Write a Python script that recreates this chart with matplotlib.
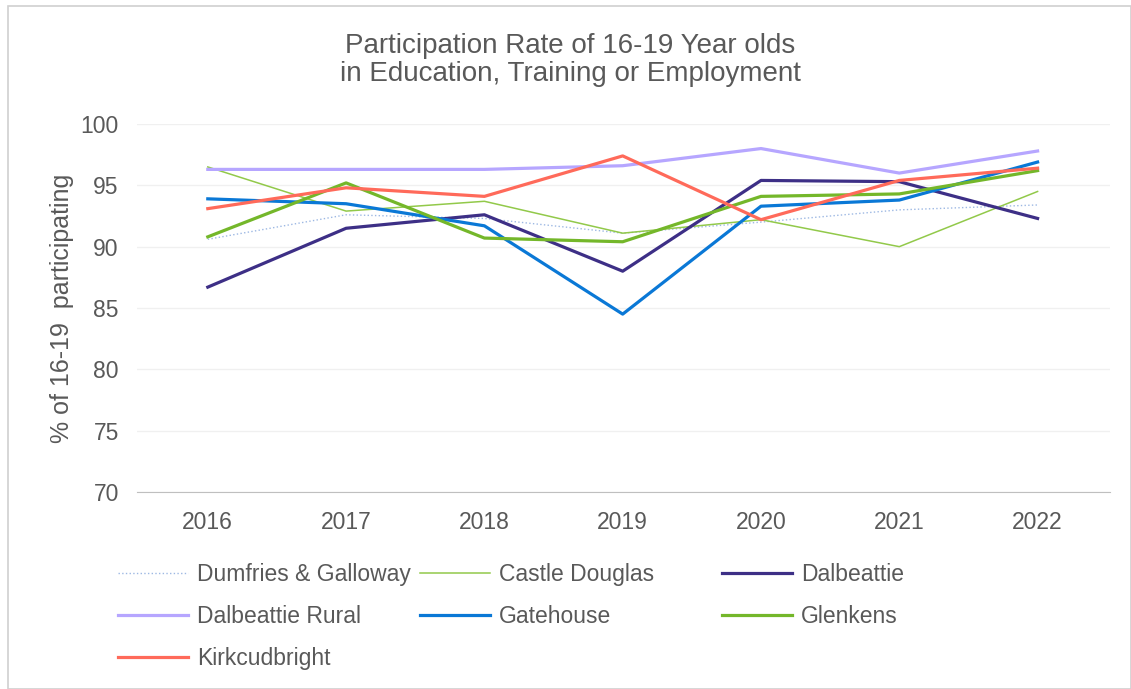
import matplotlib.pyplot as plt
from matplotlib.patches import Rectangle

plt.rcParams['font.family'] = ['Liberation Sans', 'DejaVu Sans']

years = [2016, 2017, 2018, 2019, 2020, 2021, 2022]

dumfries_galloway = [90.6, 92.6, 92.3, 91.1, 92.0, 93.0, 93.4]
castle_douglas = [96.5, 92.9, 93.7, 91.1, 92.2, 90.0, 94.5]
dalbeattie = [86.7, 91.5, 92.6, 88.0, 95.4, 95.3, 92.3]
dalbeattie_rural = [96.3, 96.3, 96.3, 96.6, 98.0, 96.0, 97.8]
gatehouse = [93.9, 93.5, 91.7, 84.5, 93.3, 93.8, 96.9]
glenkens = [90.8, 95.2, 90.7, 90.4, 94.1, 94.3, 96.2]
kirkcudbright = [93.1, 94.8, 94.1, 97.4, 92.2, 95.4, 96.4]

names = ['Dumfries & Galloway', 'Castle Douglas', 'Dalbeattie', 'Dalbeattie Rural',
         'Gatehouse', 'Glenkens', 'Kirkcudbright']
series = [dumfries_galloway, castle_douglas, dalbeattie, dalbeattie_rural,
          gatehouse, glenkens, kirkcudbright]
colors = ['#9DB8E3', '#92C94A', '#3D2F86', '#B6A6FF', '#0A78D6', '#74B72A', '#FF6A5A']
widths = [1.0, 1.1, 2.3, 2.3, 2.3, 2.3, 2.3]
styles = [':', '-', '-', '-', '-', '-', '-']

grey = '#595959'

fig = plt.figure(figsize=(11.31, 6.89), dpi=100)
fig.patches.append(Rectangle((8 / 1131, 0), 1 - 8 / 1131, 1 - 6 / 689, transform=fig.transFigure,
                             fill=False, edgecolor='#D0D0D0', linewidth=1.2))

ax = fig.add_axes([0.121, 0.286, 0.860, 0.534])
handles = []
for name, vals, c, lw, ls in zip(names, series, colors, widths, styles):
    h, = ax.plot(years, vals, color=c, linewidth=lw, linestyle=ls, label=name)
    handles.append(h)

ax.set_xlim(2015.487, 2022.52)
ax.set_ylim(70, 100)
ax.set_yticks(range(70, 101, 5))
ax.set_xticks(years)
ax.grid(axis='y', color='#F0F0F0', linewidth=1)
ax.set_axisbelow(True)
for s in ['top', 'right', 'left']:
    ax.spines[s].set_visible(False)
ax.spines['bottom'].set_color('#BFBFBF')
ax.tick_params(length=0, labelsize=16.5, labelcolor=grey)
ax.tick_params(axis='x', pad=14)
ax.tick_params(axis='y', pad=13)
ax.set_ylabel('% of 16-19  participating', fontsize=18, color=grey, labelpad=5)

fig.text(0.504, 0.913, 'Participation Rate of 16-19 Year olds\nin Education, Training or Employment',
         ha='center', va='center', fontsize=20, color=grey, linespacing=1.1)

# three legend columns placed separately to mimic fixed column widths
cols = [[0, 3, 6], [1, 4], [2, 5]]
xs = [0.0964, 0.363, 0.630]
for idx, x in zip(cols, xs):
    fig.legend([handles[i] for i in idx], [names[i] for i in idx],
               loc='upper left', bbox_to_anchor=(x, 0.196), frameon=False,
               fontsize=16.5, labelcolor=grey, handlelength=3.05, handletextpad=0.4,
               labelspacing=0.83, borderaxespad=0, borderpad=0.4)

fig.savefig('out.png', dpi=100)
